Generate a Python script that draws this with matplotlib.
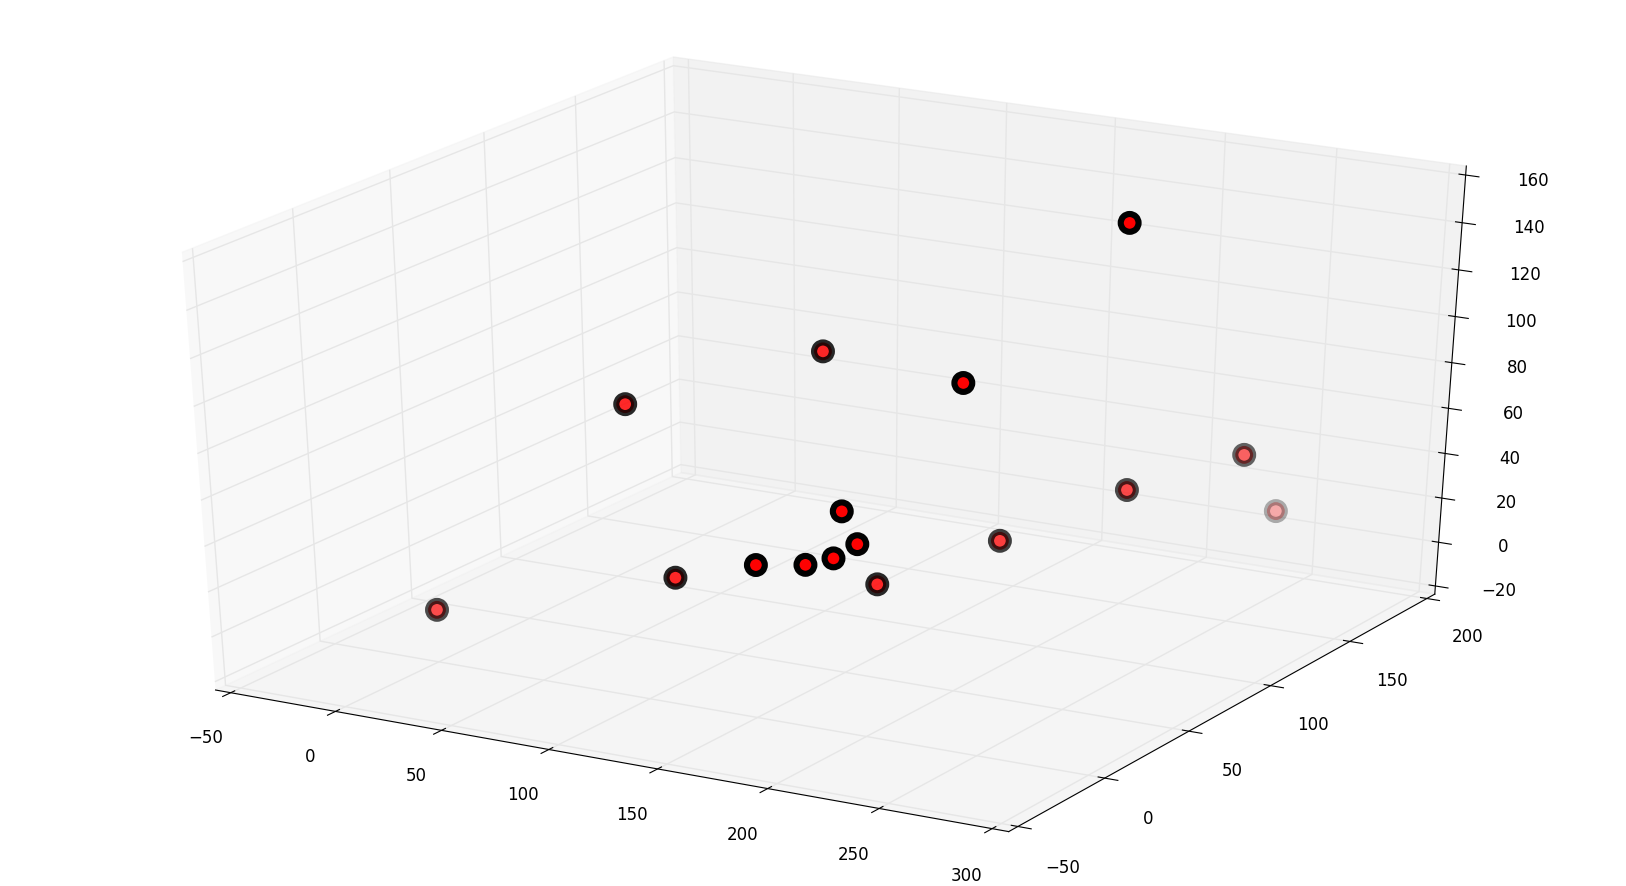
import matplotlib
matplotlib.use('Agg')
import matplotlib.pyplot as plt
from mpl_toolkits.mplot3d import Axes3D

# values
xs = [228.5, 139, 201, 81.5, 286, 258, 290, 183, 194, 227, 189, 180.5, 164, 130, 199, 45]
ys = [110, 51, 52, 12, 106, 74, 122, 7, 2, 41, -5, -10, -17, -20, 7, -49]
zs = [160.3, 114.3, 109.6, 97.4, 72.3, 64.7, 42.6, 69, 58.6, 50.4, 54.4, 52.2, 52.2, 42.5, 40.2, 26.2]

xticks = [-50, 0, 50, 100, 150, 200, 250, 300]
yticks = [-50, 0, 50, 100, 150, 200]
zticks = [-20, 0, 20, 40, 60, 80, 100, 120, 140, 160]

fig = plt.figure(figsize=(16.26, 8.87), dpi=100)
ax = fig.add_axes([0, 0, 1, 1], projection='3d')

# old mplot3d stretched the unit cube to the whole axes, no square box
ax.apply_aspect = lambda position=None: None
ax.set_box_aspect((1, 1, 1), zoom=1.04167 / 1.10025)

ax.scatter(xs, ys, zs, s=165, c='red', edgecolors='k', linewidths=4.4, depthshade=True)

ax.set_xlim(-50, 300, view_margin=1 / 48)
ax.set_ylim(-50, 200, view_margin=1 / 48)
ax.set_zlim(-20, 160, view_margin=1 / 48)
ax.set_xticks(xticks)
ax.set_yticks(yticks)
ax.set_zticks(zticks)
ax.tick_params(labelsize=12, pad=17.5)

for axis in (ax.xaxis, ax.yaxis, ax.zaxis):
    axis._axinfo['grid']['color'] = (0.9, 0.9, 0.9, 1)
    axis._axinfo['grid']['linewidth'] = 1.0

fig.savefig('out.png', dpi=100)
